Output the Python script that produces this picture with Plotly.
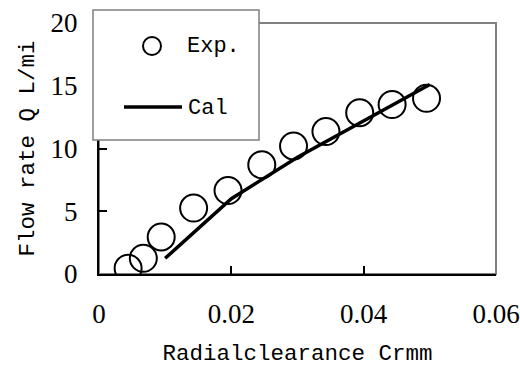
import plotly.graph_objects as go

# Measured flow rate vs. radial clearance
clearance_exp = [0.0044, 0.0067, 0.0094, 0.0143, 0.0195, 0.0246, 0.0294, 0.0343, 0.0394, 0.0443, 0.0495]
flow_exp = [0.45, 1.25, 2.95, 5.25, 6.65, 8.7, 10.2, 11.35, 12.85, 13.5, 14.0]

# Calculated flow rate
clearance_cal = [0.01, 0.02, 0.03, 0.04, 0.05]
flow_cal = [1.25, 6.0, 9.3, 12.2, 15.1]

x_ticks = [0, 0.02, 0.04, 0.06]
y_ticks = [0, 5, 10, 15, 20]

W, H = 520, 367
ML, MR, MT, MB = 99, 24, 23, 93
PW, PH = W - ML - MR, H - MT - MB

TICK_FONT = dict(family="Liberation Serif", size=27, color="black")
TITLE_FONT = dict(family="Liberation Mono", size=22.5, color="black")


def px(x):
    return (x - ML) / PW


def py(y):
    return (H - MB - y) / PH


fig = go.Figure()

fig.add_trace(go.Scatter(
    x=clearance_cal, y=flow_cal, mode="lines", name="Cal",
    line=dict(color="black", width=3.5), showlegend=False,
))
fig.add_trace(go.Scatter(
    x=clearance_exp, y=flow_exp, mode="markers", name="Exp.",
    marker=dict(symbol="circle-open", size=27, color="black",
                line=dict(color="black", width=2)),
    showlegend=False,
))

shapes = [
    # gray plot frame
    dict(type="rect", xref="paper", yref="paper", x0=0, x1=1, y0=0, y1=1,
         line=dict(color="#808080", width=2), layer="below"),
    # legend box
    dict(type="rect", xref="paper", yref="paper", x0=px(93), x1=px(259),
         y0=py(140), y1=py(10), fillcolor="white",
         line=dict(color="#808080", width=1.5), layer="above"),
    # legend symbol: open circle
    dict(type="circle", xref="paper", yref="paper", x0=px(143), x1=px(161),
         y0=py(55), y1=py(37), line=dict(color="black", width=2), layer="above"),
    # legend symbol: line
    dict(type="line", xref="paper", yref="paper", x0=px(124), x1=px(182),
         y0=py(107), y1=py(107), line=dict(color="black", width=3.5), layer="above"),
]

annotations = [
    dict(text="Exp.", xref="paper", yref="paper", x=px(185), y=py(46),
         xanchor="left", yanchor="middle", showarrow=False,
         font=dict(family="Liberation Mono", size=22, color="black")),
    dict(text="Cal", xref="paper", yref="paper", x=px(186), y=py(108),
         xanchor="left", yanchor="middle", showarrow=False,
         font=dict(family="Liberation Mono", size=22, color="black")),
]

fig.update_layout(
    width=W, height=H,
    margin=dict(l=ML, r=MR, t=MT, b=MB),
    paper_bgcolor="white", plot_bgcolor="white",
    shapes=shapes, annotations=annotations,
    showlegend=False,
    xaxis=dict(
        range=[0, 0.06], tickvals=x_ticks, ticktext=["0", "0.02", "0.04", "0.06"],
        ticks="inside", ticklen=8, tickwidth=1.5, tickcolor="black",
        showline=True, linecolor="black", linewidth=2, mirror=False,
        showgrid=False, zeroline=False, tickfont=TICK_FONT,
        ticklabelstandoff=15,
        title=dict(text="Radialclearance Crmm", font=TITLE_FONT, standoff=17),
        automargin=False,
    ),
    yaxis=dict(
        range=[0, 20], tickvals=y_ticks,
        ticks="inside", ticklen=8, tickwidth=1.5, tickcolor="black",
        showline=True, linecolor="black", linewidth=2, mirror=False,
        showgrid=False, zeroline=False, tickfont=TICK_FONT,
        ticklabelstandoff=14,
        title=dict(text="Flow rate Q L/mi", font=TITLE_FONT, standoff=10),
        automargin=False,
    ),
)

fig.write_html("out.html")
